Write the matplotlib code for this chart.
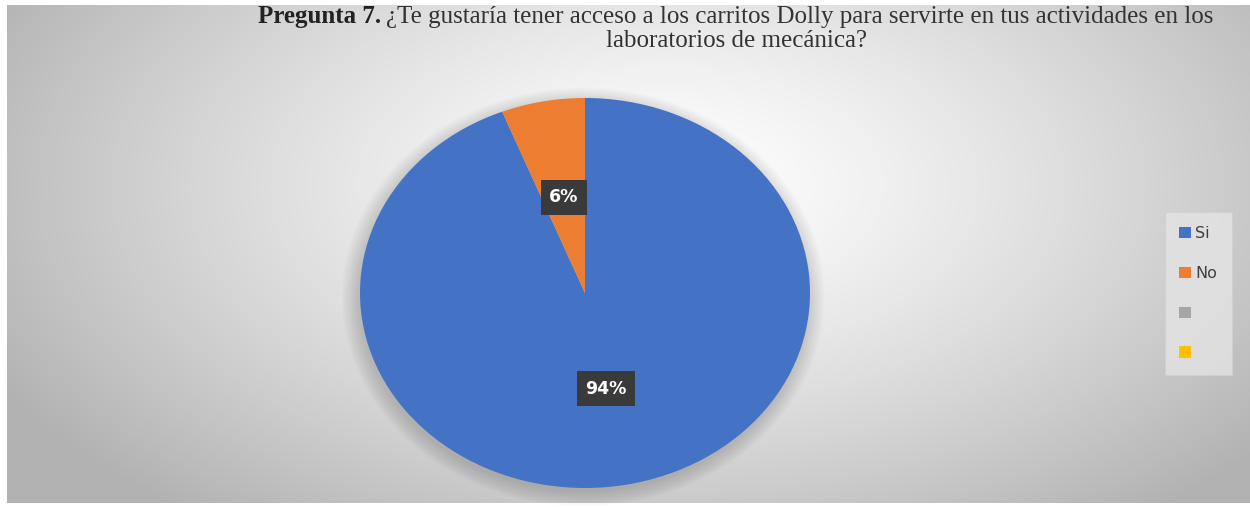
import numpy as np
import matplotlib.pyplot as plt
from matplotlib.patches import Ellipse, Patch

# datos de la encuesta
categorias = ['Si', 'No', '', '']
porcentajes = [94, 6, 0, 0]
colores = ['#4472C4', '#ED7D31', '#A5A5A5', '#FFC000']

W, H = 1250, 507
fig = plt.figure(figsize=(W / 100, H / 100), dpi=100)
fig.patch.set_facecolor('white')

# fondo con degradado radial
bg = fig.add_axes([7 / W, 4 / H, 1243 / W, 498 / H])
yy, xx = np.mgrid[0:498, 0:1243]
d = np.sqrt(((xx - 660) / 760.0) ** 2 + ((yy - 180) / 420.0) ** 2)
g = np.clip(1.0 - 0.30 * d ** 1.3, 0.70, 1.0)
bg.imshow(np.dstack([g, g, g]), aspect='auto', interpolation='bilinear')
bg.axis('off')

# pastel (eliptico)
ax = fig.add_axes([360 / W, 19 / H, 450 / W, 390 / H])
ax.patch.set_alpha(0)

# sombra difusa bajo el pastel
for k in range(10):
    s = 1.0 + 0.008 * k
    ax.add_patch(Ellipse((-0.008, -0.02), 2 * s, 2 * s, facecolor='black',
                         alpha=0.014, edgecolor='none', zorder=0,
                         clip_on=False))

valores = [v for v in porcentajes if v > 0]
wedges, _, autotexts = ax.pie(
    valores, colors=colores[:len(valores)], startangle=90, counterclock=False,
    autopct='%1.0f%%', pctdistance=0.5,
    wedgeprops=dict(edgecolor='none'),
    textprops=dict(color='white', fontsize=12.5, fontweight='bold',
                   family='DejaVu Sans'))
for w in wedges:
    w.set_zorder(2)
    w.set_clip_on(False)
for t in autotexts:
    t.set_zorder(3)
    t.set_bbox(dict(boxstyle='square,pad=0.5', facecolor='#3a3a3a',
                    edgecolor='none'))
ax.set_xlim(-1, 1)
ax.set_ylim(-1, 1)
ax.set_aspect('auto')

# titulo en dos lineas
fs = 18
t1 = fig.text(0, 1 - 17 / H, 'Pregunta 7.', ha='left', va='center',
              fontsize=fs, family='Liberation Serif', fontweight='bold',
              color='#222222')
t2 = fig.text(0, 1 - 17 / H,
              '¿Te gustaría tener acceso a los carritos Dolly para servirte en tus actividades en los',
              ha='left', va='center', fontsize=fs, family='Liberation Serif',
              color='#333333')
fig.canvas.draw()
r = fig.canvas.get_renderer()
w1 = t1.get_window_extent(r).width
w2 = t2.get_window_extent(r).width
x0 = 736 - (w1 + 5 + w2) / 2
t1.set_x(x0 / W)
t2.set_x((x0 + w1 + 5) / W)
fig.text(736 / W, 1 - 41 / H, 'laboratorios de mecánica?', ha='center',
         va='center', fontsize=fs, family='Liberation Serif', color='#333333')

# leyenda
handles = [Patch(facecolor=c, edgecolor='none') for c in colores]
leg = fig.legend(handles, categorias, loc='upper left',
                 bbox_to_anchor=(1165 / W, 1 - 212 / H), frameon=True,
                 fontsize=11.5, handlelength=0.7, handleheight=0.7,
                 handletextpad=0.3, labelspacing=1.55, borderpad=0.9,
                 borderaxespad=0, fancybox=False)
leg.get_frame().set_facecolor('#e4e4e4')
leg.get_frame().set_edgecolor('#d0d0d0')
leg.get_frame().set_linewidth(0.8)
for txt in leg.get_texts():
    txt.set_color('#404040')

fig.savefig('out.png', dpi=100)
